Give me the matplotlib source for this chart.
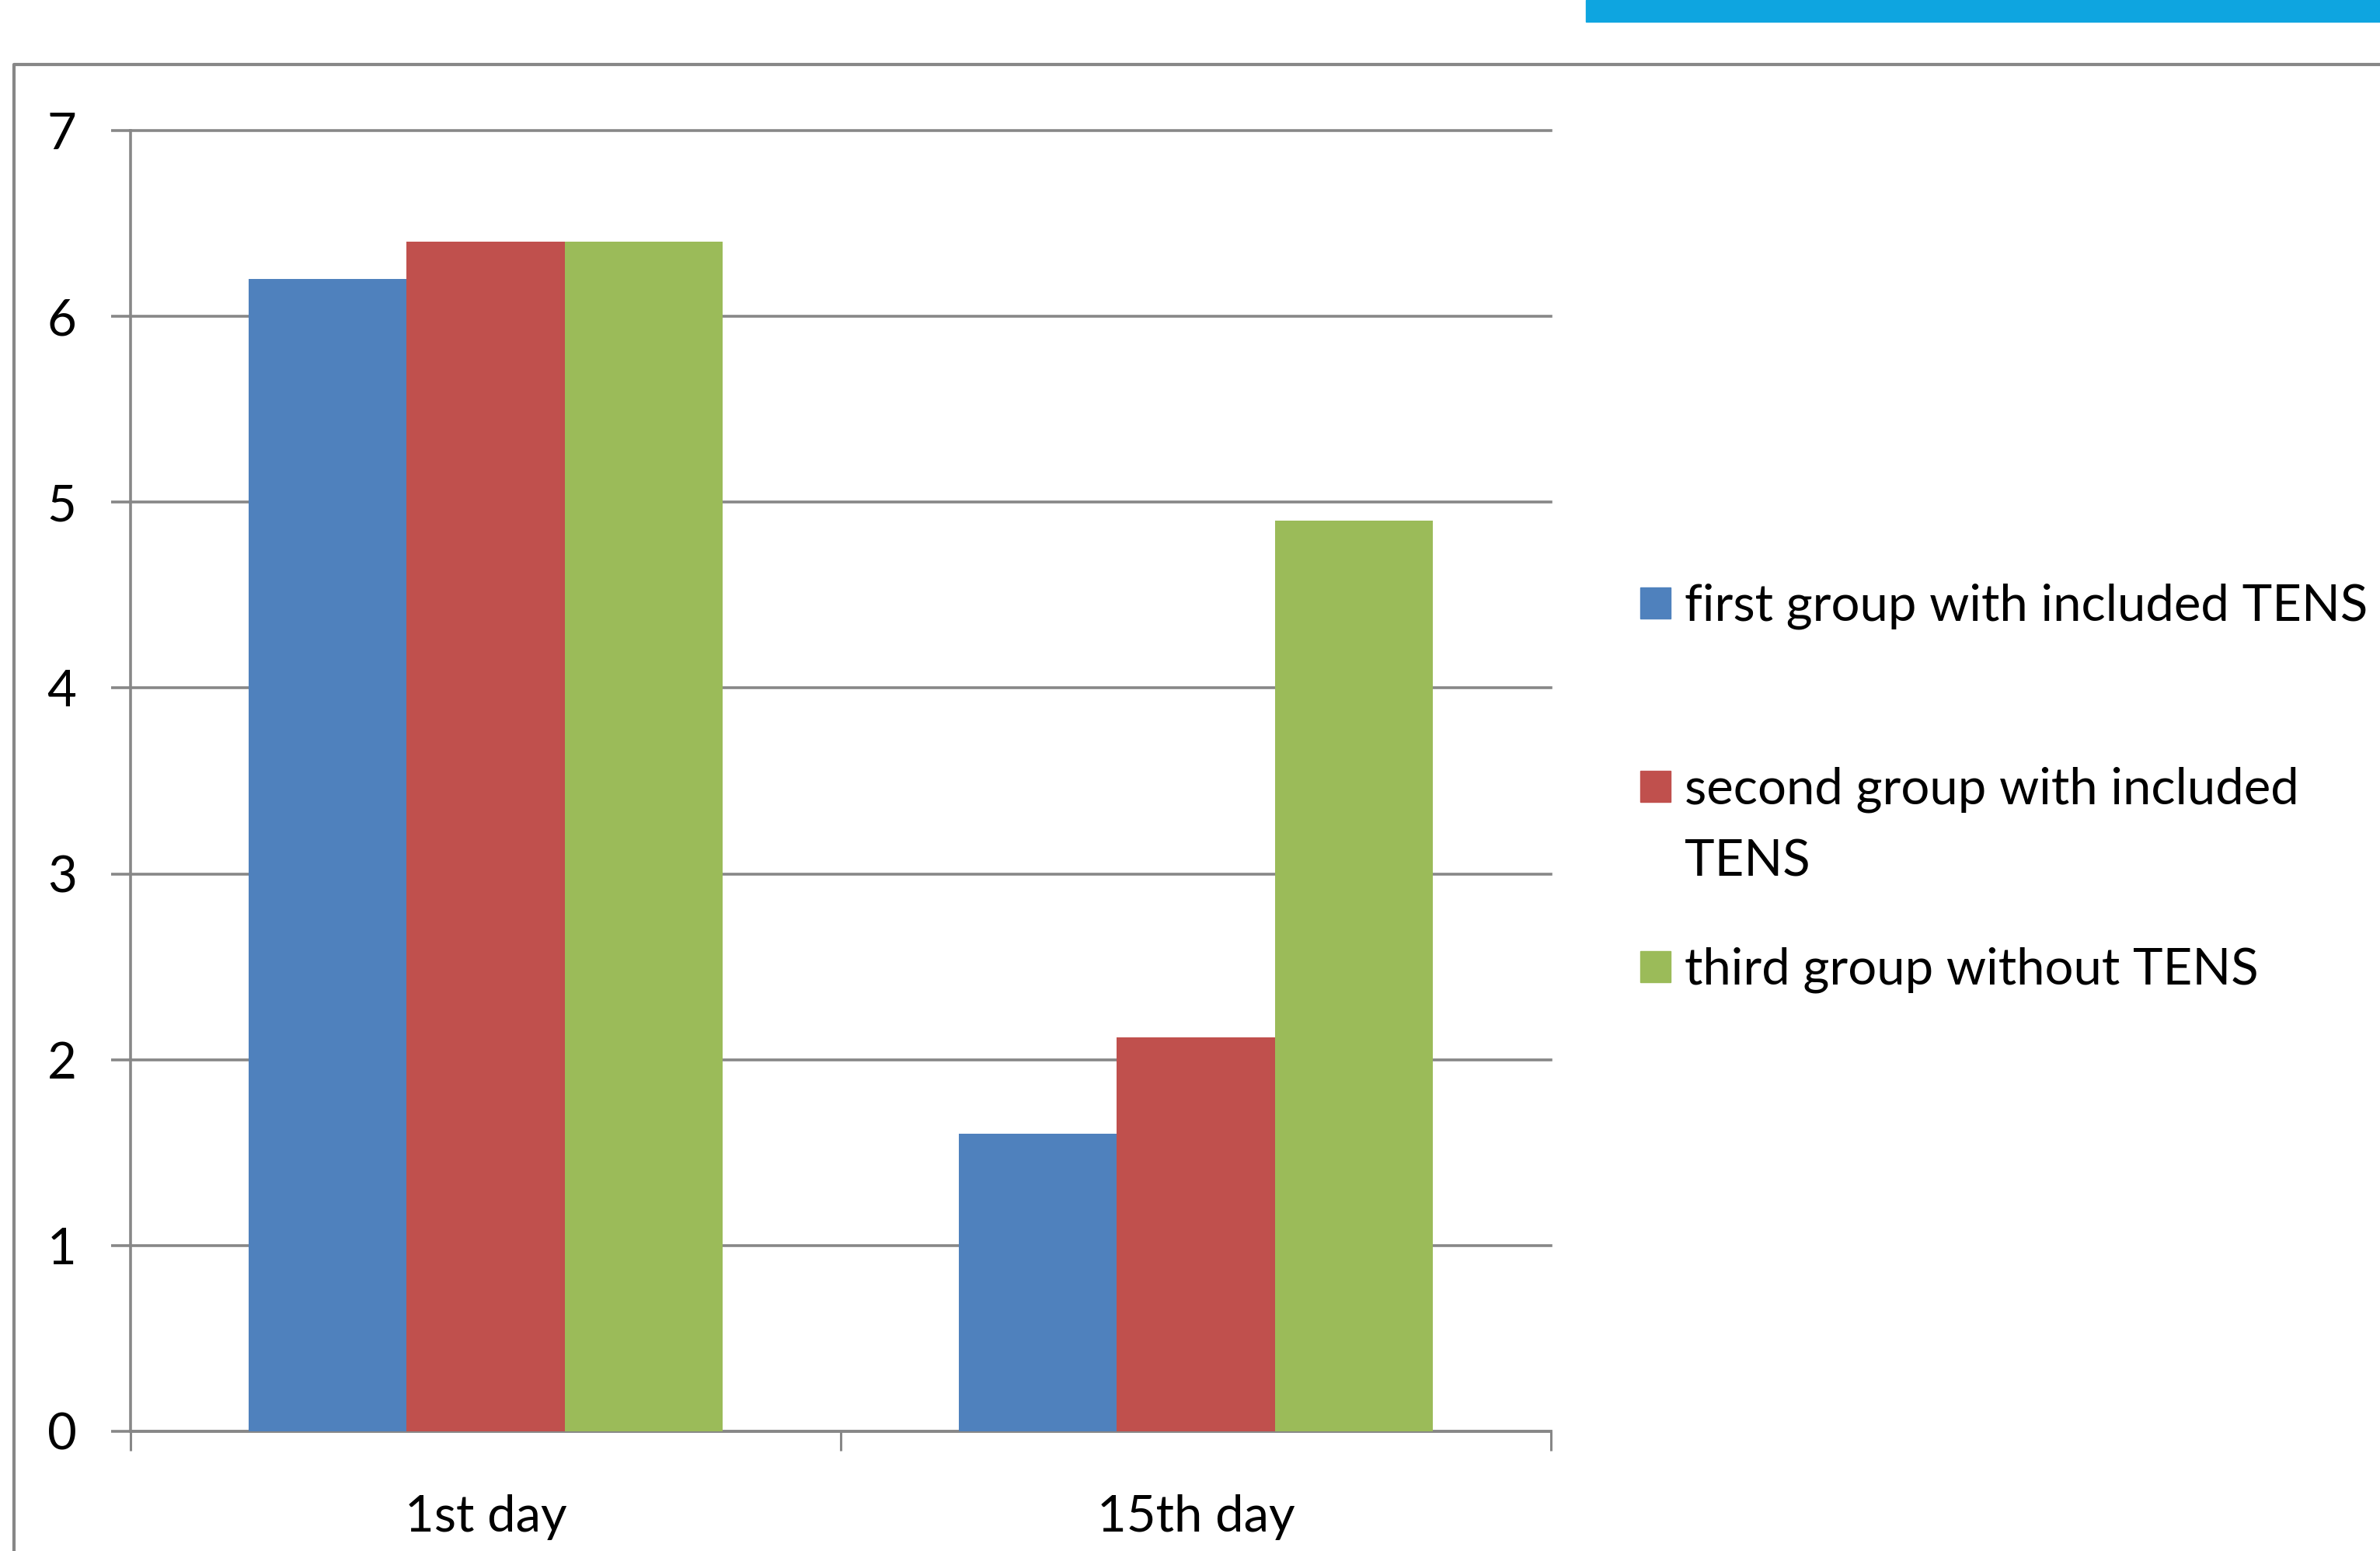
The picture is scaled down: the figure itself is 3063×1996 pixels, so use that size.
import matplotlib
matplotlib.use("Agg")
import matplotlib.pyplot as plt
from matplotlib.patches import Rectangle
from matplotlib.lines import Line2D
import numpy as np

# data
days = ["1st day", "15th day"]
group_names = ["first group with included TENS",
               "second group with included\nTENS",
               "third group without TENS"]
first_group = [6.2, 1.6]
second_group = [6.4, 2.12]
third_group = [6.4, 4.9]
colori = ["#4F81BD", "#C0504D", "#9BBB59"]

plt.rcParams['font.family'] = ['Lato', 'DejaVu Sans']
grigio = "#878787"

fig = plt.figure(figsize=(30.63, 19.96), dpi=100)
ax = fig.add_axes([168 / 3063, 1 - 1842 / 1996, (1996 - 168) / 3063, (1842 - 168) / 1996])

x = np.arange(len(days))
larghezza = 0.2222
for i, valori in enumerate([first_group, second_group, third_group]):
    ax.bar(x + (i - 1) * larghezza, valori, larghezza, color=colori[i], zorder=3)

ax.set_xlim(-0.5, 1.5)
ax.set_ylim(0, 7)
ax.set_yticks(range(0, 8))
ax.yaxis.grid(True, color=grigio, linewidth=2.6, zorder=0)
for linea in ax.get_ygridlines():
    linea.set_clip_on(False)

ax.set_xticks([-0.5, 0.5, 1.5])
ax.set_xticklabels([])
ax.set_xticks(x, minor=True)
ax.set_xticklabels(days, minor=True)
ax.tick_params(axis='x', which='minor', length=0, pad=58, labelsize=47)
ax.tick_params(axis='x', which='major', length=18, width=2.2, color=grigio, direction='out')
ax.tick_params(axis='y', length=18, width=2.6, color=grigio, direction='out', pad=32, labelsize=47)

for lato in ['top', 'right']:
    ax.spines[lato].set_visible(False)
for lato in ['left', 'bottom']:
    ax.spines[lato].set_color(grigio)
    ax.spines[lato].set_linewidth(2.6)

# legenda disegnata a mano, come nel grafico originale
W, H = 3063, 1996
posizioni_y = [776, 1012, 1244]
for colore, nome, yy in zip(colori, group_names, posizioni_y):
    fig.patches.append(Rectangle((2111 / W, 1 - (yy + 20) / H), 39 / W, 40 / H,
                                 transform=fig.transFigure, color=colore))
    fig.text(2168 / W, 1 - (yy - 25) / H, nome, fontsize=47, va='top', ha='left',
             linespacing=1.68)

# cornice esterna e barra azzurra in alto
fig.add_artist(Line2D([18 / W, 18 / W, 1.0], [0.0, 1 - 83 / H, 1 - 83 / H],
                      transform=fig.transFigure, color=grigio, linewidth=3))
fig.patches.append(Rectangle((2041 / W, 1 - 28 / H), 1 - 2041 / W, 28 / H,
                             transform=fig.transFigure, color="#0EA5E0"))

fig.savefig("out.png", dpi=100)
